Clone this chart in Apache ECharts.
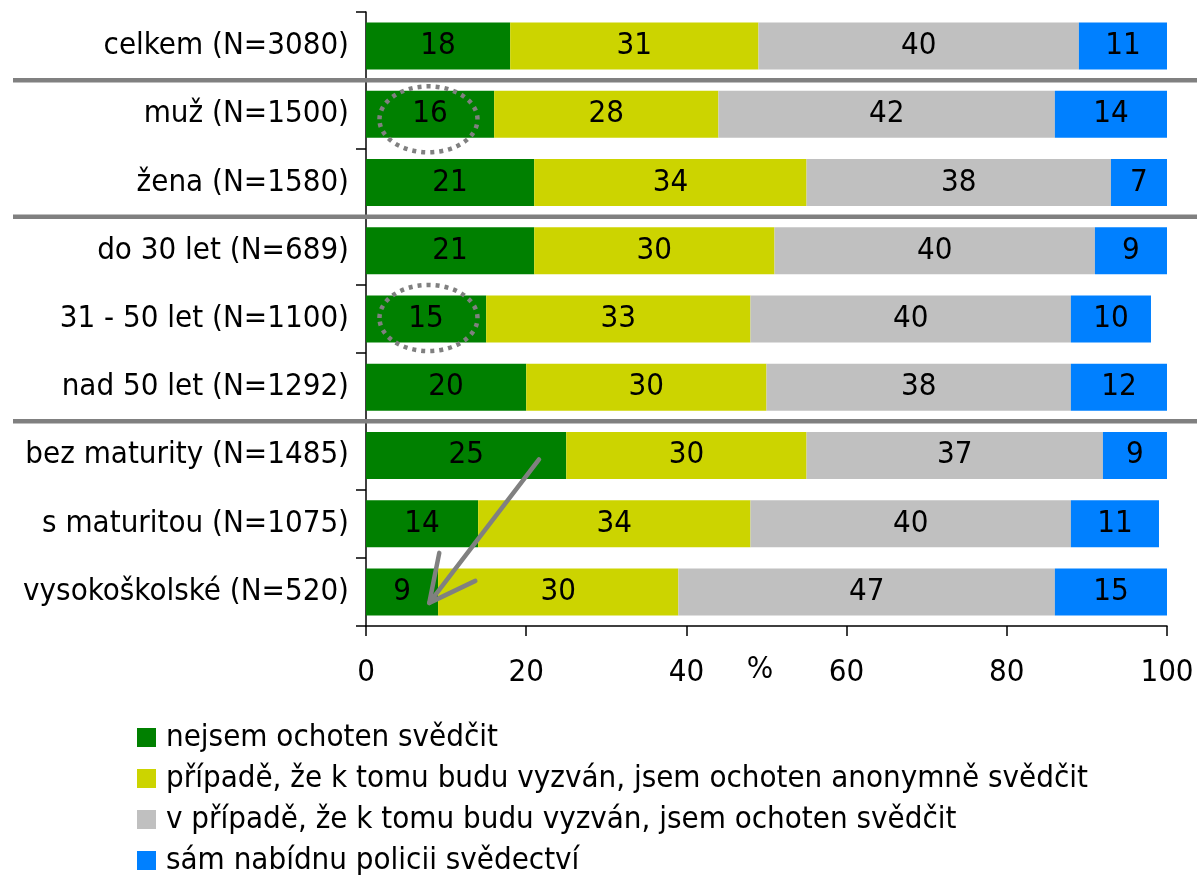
<!DOCTYPE html>
<html>
<head>
<meta charset="utf-8">
<script src="https://cdn.jsdelivr.net/npm/echarts@6/dist/echarts.min.js"></script>
<style>
  html, body { margin: 0; padding: 0; background: #fff; }
  #chart { width: 1198px; height: 878px; }
</style>
</head>
<body>
<div id="chart"></div>
<script>
// Groups of respondents (top to bottom)
const categories = [
  'celkem (N=3080)',
  'muž (N=1500)',
  'žena (N=1580)',
  'do 30 let (N=689)',
  '31 - 50 let (N=1100)',
  'nad 50 let (N=1292)',
  'bez maturity (N=1485)',
  's maturitou (N=1075)',
  'vysokoškolské (N=520)'
];

// Answer shares in %
const seriesNames = [
  'nejsem ochoten svědčit',
  'případě, že k tomu budu vyzván, jsem ochoten anonymně svědčit',
  'v případě, že k tomu budu vyzván, jsem ochoten svědčit',
  'sám nabídnu policii svědectví'
];
const notWilling = [18, 16, 21, 21, 15, 20, 25, 14, 9];
const anonymous  = [31, 28, 34, 30, 33, 30, 30, 34, 30];
const willing    = [40, 42, 38, 40, 40, 38, 37, 40, 47];
const volunteer  = [11, 14, 7, 9, 10, 12, 9, 11, 15];

const xTicks = [0, 20, 40, 60, 80, 100];
const unitLabel = '%';

// Group boundaries drawn as separator lines (after these category indices)
const groupEnds = [0, 2, 5];

const FONT = '"DejaVu Sans Condensed", "DejaVu Sans", sans-serif';
const FS = 31;
const colors = ['#008000', '#ccd400', '#c0c0c0', '#0080ff'];

const chart = echarts.init(document.getElementById('chart'), null, { renderer: 'canvas' });

const seriesData = [notWilling, anonymous, willing, volunteer];

const option = {
  animation: false,
  backgroundColor: '#ffffff',
  textStyle: { fontFamily: FONT },
  grid: { left: 366, right: 31, top: 12, bottom: 252, containLabel: false },
  legend: {
    orient: 'vertical',
    left: 137,
    top: 722,
    padding: 0,
    icon: 'rect',
    itemWidth: 19,
    itemHeight: 19,
    itemGap: 10,
    selectedMode: false,
    data: seriesNames,
    textStyle: { fontFamily: FONT, fontSize: FS, color: '#000', lineHeight: 31, padding: [0, 0, 0, 5] }
  },
  xAxis: {
    type: 'value',
    min: xTicks[0],
    max: xTicks[xTicks.length - 1],
    interval: xTicks[1] - xTicks[0],
    axisLine: { show: true, lineStyle: { color: '#000', width: 1.5 } },
    axisTick: { show: true, length: 10, inside: false, lineStyle: { color: '#000', width: 1.5 } },
    axisLabel: { fontFamily: FONT, fontSize: FS, color: '#000', margin: 31 },
    splitLine: { show: false }
  },
  yAxis: {
    type: 'category',
    inverse: true,
    data: categories,
    axisLine: { show: true, lineStyle: { color: '#000', width: 1.5 } },
    axisTick: { show: true, length: 10, inside: false, lineStyle: { color: '#000', width: 1.5 } },
    axisLabel: { fontFamily: FONT, fontSize: FS, color: '#000', margin: 17 },
    splitLine: { show: false }
  },
  series: seriesNames.map((name, i) => ({
    name: name,
    type: 'bar',
    stack: 'total',
    barWidth: 47,
    data: seriesData[i],
    itemStyle: { color: colors[i] },
    label: {
      show: true,
      position: 'inside',
      fontFamily: FONT,
      fontSize: FS,
      color: '#000'
    },
    emphasis: { disabled: true }
  }))
};

chart.setOption(option);

// Annotations: unit label, group separators, highlight ellipses and the arrow
function px(x, catIndex) {
  return chart.convertToPixel({ gridIndex: 0 }, [x, categories[catIndex]]);
}
function catY(i) {
  return chart.convertToPixel({ yAxisIndex: 0 }, categories[i]);
}

const graphics = [];

const axisY = catY(categories.length - 1) + (catY(1) - catY(0)) / 2;
graphics.push({
  type: 'text',
  z: 100,
  x: chart.convertToPixel({ xAxisIndex: 0 }, 49.2),
  y: axisY + 44,
  style: { text: unitLabel, fontFamily: FONT, fontSize: FS, fill: '#000', align: 'center', verticalAlign: 'middle' }
});

groupEnds.forEach(i => {
  const y = (catY(i) + catY(i + 1)) / 2;
  graphics.push({
    type: 'line',
    z: 100,
    shape: { x1: 13, y1: y, x2: 1197, y2: y },
    style: { stroke: '#808080', lineWidth: 4.5 }
  });
});

// Dotted ellipses around the lowest "not willing" shares: [x, category, vertical shift]
[[7.8, 1, 5], [7.8, 4, -1]].forEach(([x, c, dy]) => {
  const p = px(x, c);
  graphics.push({
    type: 'ellipse',
    z: 100,
    shape: { cx: p[0], cy: p[1] + dy, rx: 49, ry: 33 },
    style: { fill: 'none', stroke: '#808080', lineWidth: 4.5, lineDash: [4, 5] }
  });
});

// Arrow from "bez maturity" down to "vysokoškolské"
const aStart = px(21.6, 6);
const aTip = px(7.9, 8);
const start = [aStart[0], aStart[1] + 4];
const tip = [aTip[0], aTip[1] + 11];
graphics.push({
  type: 'polyline',
  z: 100,
  shape: { points: [start, tip] },
  style: { stroke: '#808080', lineWidth: 4.5, lineCap: 'round', fill: 'none' }
});
graphics.push({
  type: 'polyline',
  z: 100,
  shape: { points: [[tip[0] + 10, tip[1] - 50], tip, [tip[0] + 46, tip[1] - 22]] },
  style: { stroke: '#808080', lineWidth: 4.5, lineCap: 'round', lineJoin: 'round', fill: 'none' }
});

chart.setOption({ graphic: graphics });
</script>
</body>
</html>
